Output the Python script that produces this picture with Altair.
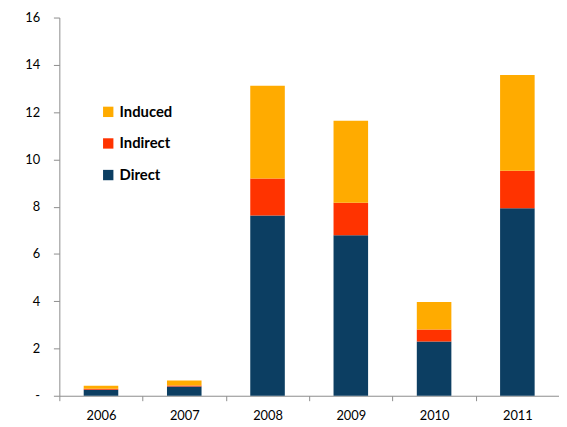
import altair as alt
import pandas as pd

years = ["2006", "2007", "2008", "2009", "2010", "2011"]
direct = [0.25, 0.39, 7.63, 6.79, 2.29, 7.93]
indirect = [0.05, 0.04, 1.56, 1.38, 0.51, 1.59]
induced = [0.12, 0.21, 3.92, 3.46, 1.17, 4.05]
series = ["Induced", "Indirect", "Direct"]
colors = ["#FFAB00", "#FF3300", "#0C3E62"]

rows = []
for i, y in enumerate(years):
    rows.append({"year": y, "type": "Direct", "value": direct[i], "ord": 0})
    rows.append({"year": y, "type": "Indirect", "value": indirect[i], "ord": 1})
    rows.append({"year": y, "type": "Induced", "value": induced[i], "ord": 2})
df = pd.DataFrame(rows)

chart = alt.Chart(df).mark_bar(width={"band": 0.415}).encode(
    x=alt.X("year:N", title=None, sort=years,
            scale=alt.Scale(paddingInner=0, paddingOuter=0),
            axis=alt.Axis(labelAngle=0, tickBand="extent", domainColor="#8c8c8c",
                          tickColor="#8c8c8c", tickSize=5, labelFont="Lato",
                          labelFontSize=13, labelColor="#000000", labelPadding=9)),
    y=alt.Y("value:Q", title=None, stack="zero",
            scale=alt.Scale(domain=[0, 16], nice=False),
            axis=alt.Axis(values=[0, 2, 4, 6, 8, 10, 12, 14, 16], grid=False,
                          labelExpr="datum.value == 0 ? '-' : datum.label",
                          domainColor="#8c8c8c", tickColor="#8c8c8c", tickSize=6,
                          labelFont="Lato", labelFontSize=13, labelColor="#000000",
                          labelPadding=14)),
    color=alt.Color("type:N", scale=alt.Scale(domain=series, range=colors),
                    legend=alt.Legend(title=None, orient="none", legendX=42, legendY=88,
                                      symbolType="square", symbolSize=110,
                                      symbolStrokeWidth=0, labelFont="Lato",
                                      labelFontSize=15, labelFontWeight="bold",
                                      labelColor="#000000", rowPadding=16,
                                      labelOffset=4)),
    order=alt.Order("ord:Q"),
).properties(
    width=506, height=383,
    autosize=alt.AutoSizeParams(type="none"),
    padding={"left": 52, "top": 7, "right": 0, "bottom": 31},
).configure_view(stroke=None)

chart.save("out.html", embed_options={"renderer": "svg", "actions": False})
